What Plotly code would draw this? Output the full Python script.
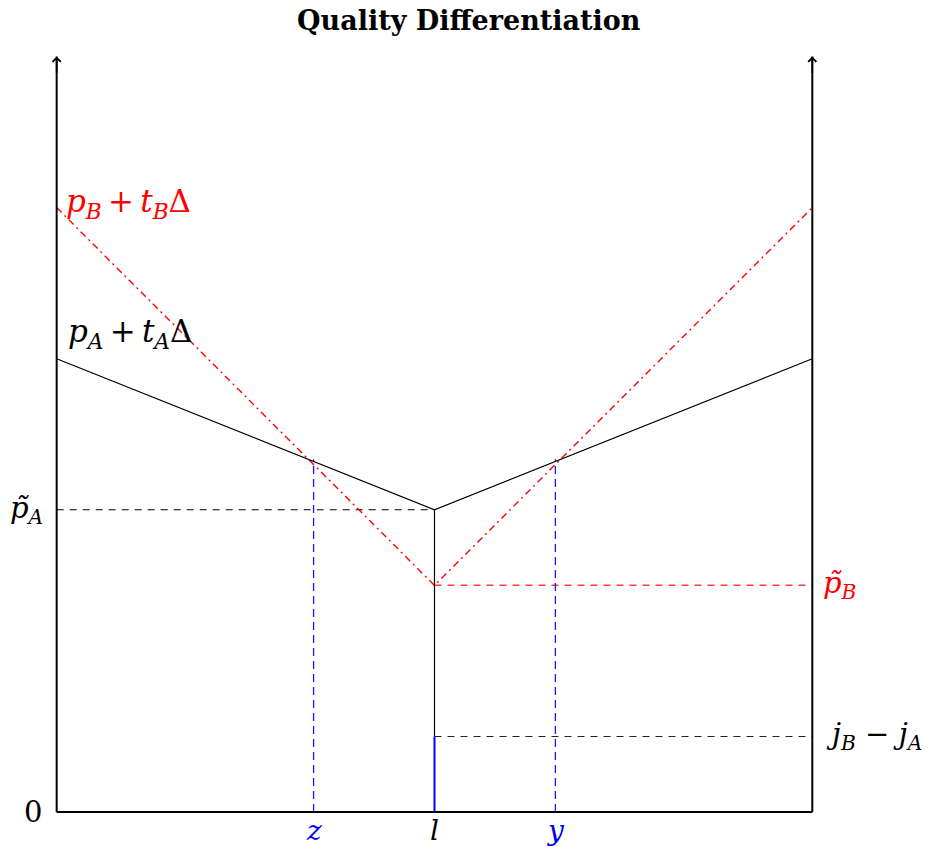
import plotly.graph_objects as go

# Horizontal positions along the product line
x_left, x_right = 0, 10
l_pos = 5          # location l
z_pos = 3.4        # marginal consumer z
y_pos = 6.6        # marginal consumer y

# Price levels
pA_tilde = 4           # vertex of firm A's delivered price
pB_tilde = 3           # vertex of firm B's delivered price
jB_minus_jA = 1        # quality gap
pA_edge = 6            # p_A + t_A * Delta
pB_edge = 8            # p_B + t_B * Delta
cross_height = 4.67    # where the two price schedules cross
axis_top = 10

RED = "#ff0000"
BLUE = "#0000ff"
SERIF = "DejaVu Serif"

fig = go.Figure()


def seg(xs, ys, color="black", width=1.2, dash="solid"):
    fig.add_trace(go.Scatter(x=xs, y=ys, mode="lines", hoverinfo="skip",
                             line=dict(color=color, width=width, dash=dash)))


# Reference dashed levels
seg([x_left, l_pos], [pA_tilde, pA_tilde], "black", 1.1, "7px,6px")
seg([l_pos, x_right], [jB_minus_jA, jB_minus_jA], "#222222", 1.1, "7px,6px")
seg([l_pos, x_right], [pB_tilde, pB_tilde], "#ff3c3c", 1.5, "7px,6px")

# Marginal consumers
seg([z_pos, z_pos], [0, cross_height], "#1818ff", 1.3, "8px,5px")
seg([y_pos, y_pos], [0, cross_height], "#1818ff", 1.3, "8px,5px")

# Firm B's delivered price schedule (dash-dotted)
seg([x_left, l_pos, x_right], [pB_edge, pB_tilde, pB_edge], RED, 1.4, "7px,4px,2px,4px")

# Firm A's delivered price schedule
seg([x_left, l_pos, x_right], [pA_edge, pA_tilde, pA_edge], "black", 1.2)

# Stem at l
seg([l_pos, l_pos], [jB_minus_jA, pA_tilde], "black", 1.2)
seg([l_pos, l_pos], [0, jB_minus_jA], BLUE, 2)

# Frame: two vertical axes and the baseline
seg([x_left, x_left], [0, axis_top], "black", 2)
seg([x_right, x_right], [0, axis_top], "black", 2)
seg([x_left, x_right], [0, 0], "black", 2)

annotations = []
for xv in (x_left, x_right):
    annotations.append(dict(x=xv, y=axis_top, xref="x", yref="y", ax=0, ay=18,
                            showarrow=True, arrowhead=4, arrowsize=1,
                            arrowwidth=1.6, arrowcolor="black", text=""))


def label(text, x, y, color="black", size=26, xanchor="center", yanchor="middle"):
    annotations.append(dict(x=x, y=y, xref="x", yref="y", text=text, showarrow=False,
                            xanchor=xanchor, yanchor=yanchor,
                            font=dict(family=SERIF, size=size, color=color)))


label("<i>p</i><sub><i>B</i></sub>\u2009+\u2009<i>t</i><sub><i>B</i></sub>\u0394",
      0.1, pB_edge + 0.05, RED, 31, "left")
label("<i>p</i><sub><i>A</i></sub>\u2009+\u2009<i>t</i><sub><i>A</i></sub>\u0394",
      0.12, pA_edge + 0.33, "black", 31, "left")
label("<i>p\u0303</i><sub><i>A</i></sub>", -0.16, pA_tilde, "black", 29, "right")
label("<i>p\u0303</i><sub><i>B</i></sub>", 10.12, pB_tilde, RED, 29, "left")
label("<i>j</i><sub><i>B</i></sub> \u2212 <i>j</i><sub><i>A</i></sub>",
      10.15, jB_minus_jA, "black", 29, "left")
label("0", -0.17, 0, "black", 29, "right")
label("<i>z</i>", z_pos, -0.25, BLUE, 28)
label("<i>l</i>", l_pos, -0.24, "black", 28)
label("<i>y</i>", y_pos, -0.25, BLUE, 28)

annotations.append(dict(x=469 / 928, y=1 - 20 / 847, xref="paper", yref="paper",
                        text="<b>Quality Differentiation</b>", showarrow=False,
                        xanchor="center", yanchor="middle",
                        font=dict(family="DejaVu Serif", size=27, color="black")))

fig.update_layout(
    width=928, height=847,
    margin=dict(l=0, r=0, t=0, b=0),
    paper_bgcolor="white", plot_bgcolor="white",
    showlegend=False,
    annotations=annotations,
    xaxis=dict(range=[-0.750, 11.531], visible=False, fixedrange=True),
    yaxis=dict(range=[-0.463, 10.748], visible=False, fixedrange=True),
)

fig.write_html("out.html")
